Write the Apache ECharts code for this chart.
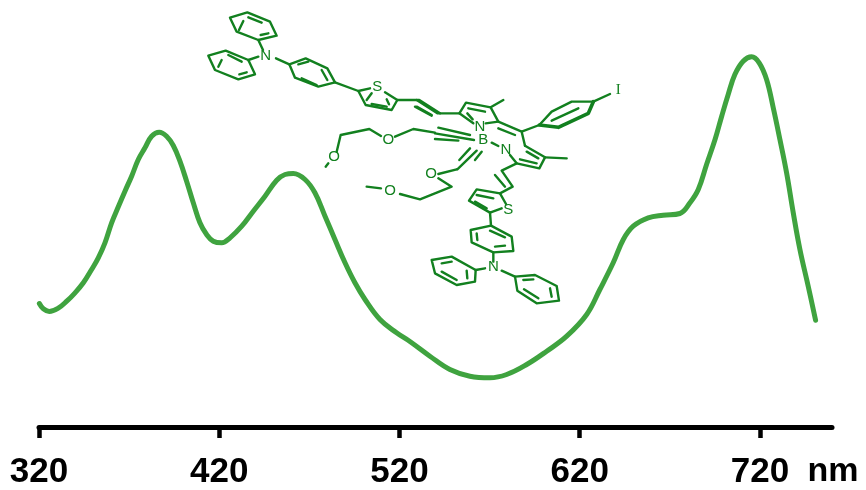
<!DOCTYPE html>
<html>
<head>
<meta charset="utf-8">
<style>html,body{margin:0;padding:0;background:#fff}#c{width:866px;height:490px}</style>
<script src="https://cdn.jsdelivr.net/npm/echarts@6/dist/echarts.min.js"></script>
</head>
<body>
<div id="c"></div>
<script>
var wavelengths = [320.2,322.4,325.7,330.7,335.4,340,344.6,349.2,352.9,356.6,360.3,364,367.7,371.4,375.1,378.8,382.5,386.7,390.8,394.5,398.2,401.9,405.6,409.3,413,416.7,421.4,426,432.5,438.9,445.4,451.9,456.5,461.1,467.6,473.1,478.7,484.2,489.8,495.3,500.9,509.2,518.4,525.8,536.9,548,559.1,570.2,579.5,590.6,601.7,612.8,623.9,631.2,638.6,644.2,649.7,658,666.3,675.6,681.2,685.8,690.4,695.1,698.8,702.4,706.1,710.7,715.4,719.6,723.7,727.4,731.1,734.8,738.5,742.2,746.8,750.9];
var absorbance = [124,118.7,116,119.3,126.3,134.7,144.7,158,169.7,184.7,204.7,220.7,236.3,251.3,268,279.7,291.3,295.3,291.3,282,266.3,246.3,224.7,204.7,193,186.3,184.7,189.7,201.3,216.3,231.3,247.3,253,254,248,234.7,211.3,188,164.7,144.7,128,108,94.7,86,71.3,58,51.3,49.7,53,63,76.3,91.3,113,138,164.7,188,201.3,209.7,212.3,214,224.7,238,263,288,311.3,333,353,366.3,370.7,364.7,348,319.7,288,254.7,214.7,178,141.3,107.3];
var tickValues = [320,420,520,620,720];
var unitLabel = 'nm';

var ink = '#12801f';
// Molecule outline (two traced crops, 3x scale)
var upperLeft = [
 [[120,38],[172,22],[240,50],[260,92],[205,105],[140,80],[120,38]],
 [[147,75],[160,48]],[[175,37],[215,53]],[[212,90],[235,85]],
 [[55,152],[107,137],[175,165],[195,208],[145,223],[75,195],[55,152]],
 [[85,185],[95,165]],[[115,150],[155,170]],[[148,208],[170,202]],
 [[205,105],[219,135]],[[175,165],[205,155]],[[258,160],[298,178]],
 [[298,178],[347,160],[412,190],[435,232],[385,245],[315,218],[298,178]],
 [[325,178],[355,170]],[[395,195],[412,225]],[[335,220],[380,240]],
 [[435,232],[505,258]],
 [[540,250],[505,258],[527,300],[605,315],[622,285],[585,262]],
 [[530,285],[545,265]],[[545,297],[590,305]],[[590,283],[597,298]],
 [[622,285],[688,285],[750,325]],[[680,305],[725,330]]
];
var lowerRight = [
 [[290,60],[352,100],[418,100]],[[285,80],[335,107]],
 [[460,130],[418,100],[438,68],[512,82],[535,125],[497,130]],
 [[445,85],[495,95]],[[442,100],[458,118]],[[512,82],[550,60]],
 [[535,125],[605,155],[615,197]],[[535,145],[585,165]],
 [[605,155],[658,135]],
 [[658,135],[695,95],[755,65],[820,65]],
 [[695,122],[775,85]],[[820,65],[870,42]],
 [[615,197],[675,232],[658,265],[590,250],[570,225]],
 [[620,215],[655,235]],[[600,238],[650,250]],[[675,232],[740,235]],
 [[515,188],[535,198]],
 [[590,250],[545,272],[578,320],[540,340]],[[525,285],[555,320]],
 [[558,372],[540,340],[470,328],[447,362],[510,398],[545,385]],
 [[470,345],[520,355]],[[465,365],[500,385]],
 [[510,398],[513,437]],
 [[513,437],[575,470],[580,513],[520,517],[455,487],[452,450],[513,437]],
 [[510,452],[555,472]],[[525,500],[555,497]],[[470,460],[472,480]],
 [[520,517],[520,545]],
 [[495,565],[467,570]],
 [[467,570],[465,605],[410,615],[345,580],[335,540],[395,530],[467,570]],
 [[440,572],[442,595]],[[365,575],[410,600]],[[365,550],[395,545]],
 [[545,572],[585,590]],
 [[585,590],[645,585],[710,618],[717,662],[650,670],[592,632],[585,590]],
 [[610,600],[640,598]],[[690,625],[695,650]],[[612,628],[655,655]],
 [[355,143],[450,165]],[[345,160],[462,180]],[[345,177],[415,182]],
 [[345,158],[280,147],[225,170]],[[183,168],[148,147],[62,165],[50,215]],[[25,250],[17,260]],
 [[450,205],[418,240]],[[470,212],[412,268]],[[485,215],[465,240]],
 [[410,268],[355,282]],[[355,295],[395,320],[300,358],[240,342]],[[183,325],[140,320]]
];
var frontBond = [[658,135],[715,142],[805,100],[820,65]];
var atomsUpper = [['N',227,152],['S',562,247]];
var atomsLower = [['N',480,142],['B',490,180],['N',558,210],['O',205,180],['O',42,232],['O',333,282],['O',210,332],['S',565,390],['N',520,562]];

function place(pts, ox, oy){ return pts.map(function(p){ return [ox+p[0]/3, oy+p[1]/3]; }); }
function stroke(pts, ox, oy, w){
  return {type:'polyline', silent:true, z:5, shape:{points:place(pts,ox,oy)},
          style:{stroke:ink, lineWidth:w, fill:null, lineJoin:'round', lineCap:'round'}};
}
function atom(a, ox, oy){
  return {type:'text', silent:true, z:6, x:ox+a[1]/3, y:oy+a[2]/3,
          style:{text:a[0], fill:ink, font:'15px "Liberation Sans"', align:'center', verticalAlign:'middle'}};
}
var graphics = [];
upperLeft.forEach(function(s){ graphics.push(stroke(s,190,5,2.4)); });
lowerRight.forEach(function(s){ graphics.push(stroke(s,320,80,2.4)); });
graphics.push(stroke(frontBond,320,80,3.6));
atomsUpper.forEach(function(a){ graphics.push(atom(a,190,5)); });
atomsLower.forEach(function(a){ graphics.push(atom(a,320,80)); });
graphics.push({type:'text', silent:true, z:6, x:320+895/3, y:80+30/3,
  style:{text:'I', fill:ink, font:'15px "Liberation Serif"', align:'center', verticalAlign:'middle'}});
graphics.push({type:'text', silent:true, z:6, x:833, y:472,
  style:{text:unitLabel, fill:'#000', font:'bold 34px "Liberation Sans"', align:'center', verticalAlign:'middle'}});

var chart = echarts.init(document.getElementById('c'), null, {renderer:'canvas'});
chart.setOption({
  animation:false,
  backgroundColor:'#fff',
  grid:{left:39, right:34, top:0, bottom:62.5, containLabel:false},
  xAxis:{
    type:'value', min:320, max:760,
    axisLine:{show:true, lineStyle:{color:'#000', width:5}},
    axisTick:{show:true, customValues:tickValues, length:10.5, lineStyle:{color:'#000', width:4.5}},
    axisLabel:{show:true, customValues:tickValues, margin:27, color:'#000',
      fontFamily:'"Liberation Sans"', fontWeight:'bold', fontSize:35, showMinLabel:true},
    splitLine:{show:false}, minorTick:{show:false}
  },
  yAxis:{type:'value', min:0, max:427.5, show:false, splitLine:{show:false}},
  series:[{
    type:'line', showSymbol:false, symbol:'none', smooth:0.4,
    lineStyle:{color:'#3fa33f', width:5, cap:'round', join:'round'},
    data:wavelengths.map(function(w,i){ return [w, absorbance[i]]; })
  }],
  graphic:graphics
});
</script>
</body>
</html>
